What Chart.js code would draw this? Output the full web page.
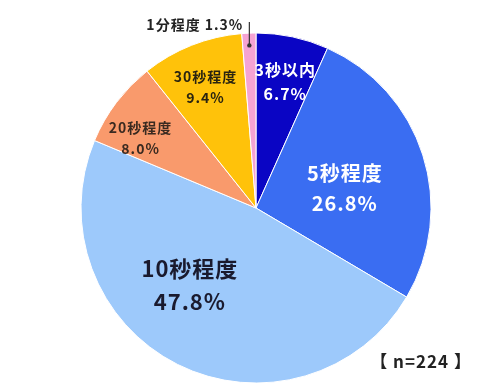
<!DOCTYPE html>
<html>
<head>
<meta charset="utf-8">
<script src="https://cdn.jsdelivr.net/npm/chart.js@4"></script>
<style>
  html, body { margin: 0; padding: 0; background: #fff; }
  #wrap { width: 500px; height: 388px; position: relative; }
</style>
</head>
<body>
<div id="wrap"><canvas id="myChart" width="500" height="388"></canvas></div>
<script>
var labels = ['3秒以内', '5秒程度', '10秒程度', '20秒程度', '30秒程度', '1分程度'];
var values = [6.7, 26.8, 47.8, 8.0, 9.4, 1.3];
var sampleNote = '【 n=224 】';

var colors = ['#0a05c4', '#3a6df2', '#9dc9fb', '#f99a6c', '#ffc20a', '#f5a3d3'];
// label placement: fraction of radius, angle shift in degrees, font size, text colour
var labelStyle = [
    { frac: 0.74, shift: 1, size: 16, color: '#ffffff' },
    { frac: 0.52, shift: 5, size: 20, color: '#ffffff' },
    { frac: 0.58, shift: 14, size: 22, color: '#1a1a2e' },
    { frac: 0.77, shift: -6, size: 14, color: '#3a2a20' },
    { frac: 0.75, shift: -1, size: 14, color: '#2a2410' },
    null
];
var font = '"Noto Sans CJK JP", "Noto Sans", sans-serif';

var pieLabels = {
    id: 'pieLabels',
    afterDatasetsDraw: function(chart) {
        var ctx = chart.ctx;
        var arcs = chart.getDatasetMeta(0).data;
        ctx.save();
        ctx.textAlign = 'center';
        ctx.textBaseline = 'middle';
        ctx.letterSpacing = '1px';
        arcs.forEach(function(arc, i) {
            var p = arc.getProps(['x', 'y', 'startAngle', 'endAngle', 'outerRadius'], true);
            var mid = (p.startAngle + p.endAngle) / 2;
            var st = labelStyle[i];
            var pct = values[i].toFixed(1) + '%';
            if (st) {
                var a = mid + st.shift * Math.PI / 180;
                var cx = p.x + Math.cos(a) * p.outerRadius * st.frac;
                var cy = p.y + Math.sin(a) * p.outerRadius * st.frac;
                var gap = st.size * 0.75;
                ctx.fillStyle = st.color;
                ctx.font = 'bold ' + st.size + 'px ' + font;
                ctx.fillText(labels[i], cx, cy - gap);
                ctx.fillText(pct, cx, cy + gap);
            } else {
                // small slice: leader line up out of the pie
                var dx = p.x + Math.cos(mid) * p.outerRadius * 0.93;
                var dy = p.y + Math.sin(mid) * p.outerRadius * 0.93;
                var topY = p.y - p.outerRadius - 11;
                ctx.strokeStyle = '#333';
                ctx.lineWidth = 1.2;
                ctx.beginPath();
                ctx.moveTo(dx, dy);
                ctx.lineTo(dx, topY);
                ctx.stroke();
                ctx.fillStyle = '#333';
                ctx.beginPath();
                ctx.arc(dx, dy, 2.2, 0, Math.PI * 2);
                ctx.fill();
                ctx.textAlign = 'right';
                ctx.fillStyle = '#222';
                ctx.font = 'bold 14px ' + font;
                ctx.fillText(labels[i] + ' ' + pct, dx - 6, topY + 3);
                ctx.textAlign = 'center';
            }
        });
        ctx.textAlign = 'right';
        ctx.fillStyle = '#222';
        ctx.font = 'bold 17px ' + font;
        ctx.fillText(sampleNote, 472, 362);
        ctx.restore();
    }
};

var ctx = document.getElementById('myChart').getContext('2d');
var myChart = new Chart(ctx, {
    type: 'pie',
    data: {
        labels: labels,
        datasets: [{
            data: values,
            backgroundColor: colors,
            borderColor: '#ffffff',
            borderWidth: 1
        }]
    },
    options: {
        responsive: false,
        animation: false,
        radius: 175,
        layout: { padding: { left: 12, right: 0, top: 28, bottom: 0 } },
        plugins: {
            legend: { display: false },
            tooltip: { enabled: false }
        }
    },
    plugins: [pieLabels]
});
</script>
</body>
</html>
